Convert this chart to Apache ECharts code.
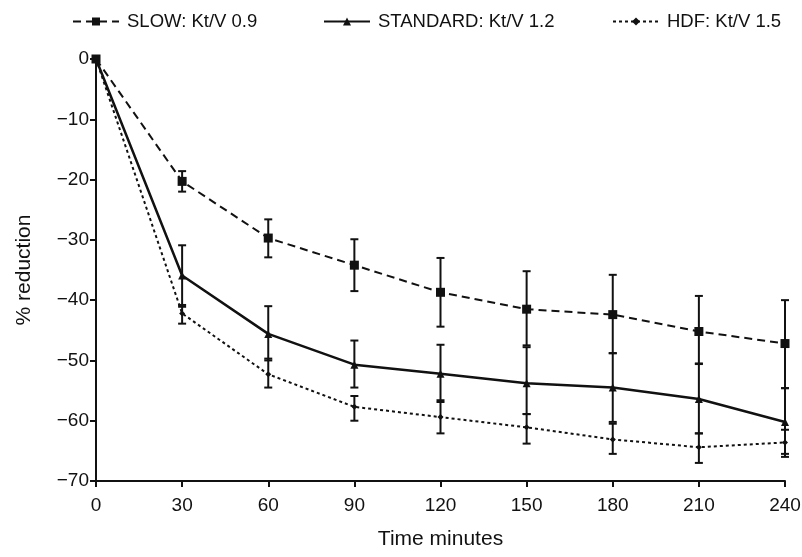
<!DOCTYPE html>
<html>
<head>
<meta charset="utf-8">
<script src="https://cdn.jsdelivr.net/npm/echarts@6/dist/echarts.min.js"></script>
<style>
html,body{margin:0;padding:0;background:#fff;}
#chart{width:802px;height:557px;}
</style>
</head>
<body>
<div id="chart"></div>
<script>
var times = [0, 30, 60, 90, 120, 150, 180, 210, 240];
var xTicks = [0, 30, 60, 90, 120, 150, 180, 210, 240];
var yTicks = [0, -10, -20, -30, -40, -50, -60, -70];

var slowMean = [0, -20.3, -29.7, -34.2, -38.7, -41.5, -42.4, -45.2, -47.2];
var slowHigh = [0, -18.6, -26.6, -29.9, -33.0, -35.2, -35.8, -39.3, -40.0];
var slowLow  = [0, -22.0, -32.9, -38.5, -44.4, -47.5, -48.8, -50.5, -54.6];

var stdMean = [0, -35.9, -45.6, -50.7, -52.2, -53.8, -54.5, -56.4, -60.2];
var stdHigh = [0, -30.9, -41.0, -46.7, -47.4, -47.8, -48.8, -50.6, -54.6];
var stdLow  = [0, -41.1, -50.0, -54.5, -56.9, -58.9, -60.2, -62.1, -65.5];

var hdfMean = [0, -42.2, -52.3, -57.7, -59.4, -61.1, -63.1, -64.4, -63.6];
var hdfHigh = [0, -40.8, -49.7, -55.9, -56.6, -58.9, -60.5, -62.1, -61.5];
var hdfLow  = [0, -43.9, -54.5, -60.0, -62.1, -63.8, -65.5, -67.0, -66.0];

var names = ['SLOW: Kt/V 0.9', 'STANDARD: Kt/V 1.2', 'HDF: Kt/V 1.5'];

function pairs(means) { return times.map(function (t, i) { return [t, means[i]]; }); }
function errs(lo, hi) {
  var out = [];
  times.forEach(function (t, i) { if (lo[i] !== hi[i]) out.push([t, lo[i], hi[i]]); });
  return out;
}
function errSeries(name, data) {
  return {
    type: 'custom',
    name: name,
    data: data,
    z: 3,
    silent: true,
    renderItem: function (params, api) {
      var x = api.value(0);
      var p1 = api.coord([x, api.value(1)]);
      var p2 = api.coord([x, api.value(2)]);
      var w = 4;
      var st = { stroke: '#111', lineWidth: 2, fill: null };
      return {
        type: 'group',
        children: [
          { type: 'line', shape: { x1: p1[0], y1: p1[1], x2: p2[0], y2: p2[1] }, style: st },
          { type: 'line', shape: { x1: p1[0] - w, y1: p1[1], x2: p1[0] + w, y2: p1[1] }, style: st },
          { type: 'line', shape: { x1: p2[0] - w, y1: p2[1], x2: p2[0] + w, y2: p2[1] }, style: st }
        ]
      };
    }
  };
}

var font = '"Liberation Sans", Arial, sans-serif';
var chart = echarts.init(document.getElementById('chart'), null, { renderer: 'canvas' });

function legendAt(left, name) {
  return {
    left: left, top: 12, padding: 0,
    data: [name],
    itemWidth: 46, itemHeight: 10,
    textStyle: { fontFamily: font, fontSize: 18.5, color: '#111', padding: [0, 0, 0, 3] },
    selectedMode: false
  };
}

chart.setOption({
  animation: false,
  backgroundColor: '#fff',
  grid: { left: 96, right: 17, top: 59, bottom: 76, outerBoundsMode: 'none' },
  legend: [legendAt(72, names[0]), legendAt(323, names[1]), legendAt(612, names[2])],
  xAxis: {
    type: 'value', min: xTicks[0], max: xTicks[xTicks.length - 1], interval: 30,
    name: 'Time minutes', nameLocation: 'middle', nameGap: 48,
    nameTextStyle: { fontFamily: font, fontSize: 21, color: '#111' },
    axisLine: { onZero: false, lineStyle: { color: '#111', width: 2 } },
    axisTick: { length: 6, lineStyle: { color: '#111', width: 2 } },
    axisLabel: { fontFamily: font, fontSize: 19, color: '#111', margin: 15 },
    splitLine: { show: false }
  },
  yAxis: {
    type: 'value', min: yTicks[yTicks.length - 1], max: yTicks[0], interval: 10,
    name: '% reduction', nameLocation: 'middle', nameGap: 61,
    nameTextStyle: { fontFamily: font, fontSize: 21, color: '#111' },
    axisLine: { onZero: false, lineStyle: { color: '#111', width: 2 } },
    axisTick: { length: 6, lineStyle: { color: '#111', width: 2 } },
    axisLabel: {
      fontFamily: font, fontSize: 19, color: '#111', margin: 7,
      formatter: function (v) { return v < 0 ? '\u2212' + Math.abs(v) : String(v); }
    },
    splitLine: { show: false }
  },
  series: [
    errSeries('errSlow', errs(slowLow, slowHigh)),
    errSeries('errStd', errs(stdLow, stdHigh)),
    errSeries('errHdf', errs(hdfLow, hdfHigh)),
    {
      type: 'line', name: names[0], data: pairs(slowMean), z: 4,
      symbol: 'rect', symbolSize: 9,
      lineStyle: { color: '#111', width: 2, type: [8, 5] },
      itemStyle: { color: '#111' }
    },
    {
      type: 'line', name: names[1], data: pairs(stdMean), z: 4,
      symbol: 'triangle', symbolSize: 8,
      lineStyle: { color: '#111', width: 2.5, type: 'solid' },
      itemStyle: { color: '#111' }
    },
    {
      type: 'line', name: names[2], data: pairs(hdfMean), z: 4,
      symbol: 'diamond', symbolSize: 6,
      lineStyle: { color: '#111', width: 2, type: [3, 3] },
      itemStyle: { color: '#111' }
    }
  ]
});
</script>
</body>
</html>
